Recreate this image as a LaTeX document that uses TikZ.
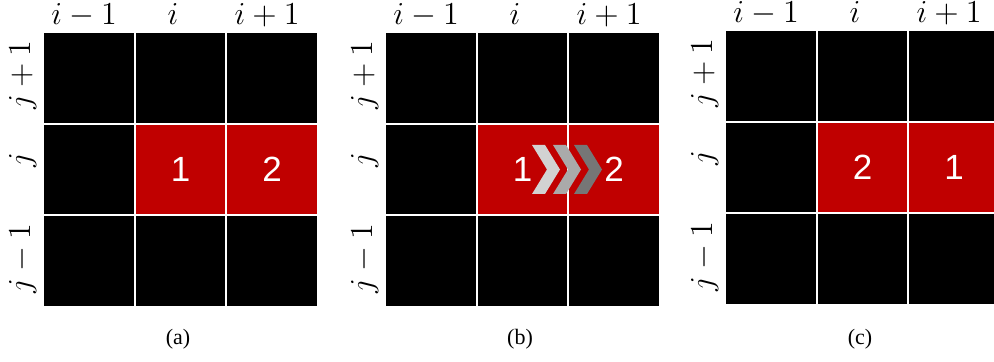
\documentclass[tikz,border=0pt]{standalone}
\usepackage{fix-cm}
\usepackage[no-math]{fontspec}
\usetikzlibrary{positioning}
\newfontfamily\capfont{Liberation Serif}
\newfontfamily\numfont{Liberation Sans}
\definecolor{CellRed}{RGB}{192,0,0}
\definecolor{ChevLight}{RGB}{210,210,210}
\definecolor{ChevMid}{RGB}{170,170,170}
\definecolor{ChevDark}{RGB}{118,118,118}

\begin{document}
\begin{tikzpicture}[x=0.5pt,y=-0.5pt,
  cell/.style={minimum width=44.75pt,minimum height=44.75pt,
               inner sep=0pt,anchor=north west},
  num/.style={text=white,font=\numfont\fontsize{17.5}{20}\selectfont},
  toplab/.style={anchor=base,inner sep=0pt,font=\fontsize{16}{19}\selectfont},
  sidelab/.style={anchor=base,rotate=90,inner sep=0pt,font=\fontsize{16}{19}\selectfont},
  caplab/.style={font=\capfont\fontsize{11}{13}\selectfont},
]
\useasboundingbox (0,0) rectangle (994,362);

% three 3x3 grids
\foreach \p/\px/\py in {a/44/33,b/386/33,c/726/31} {
  \foreach \c in {0,1,2} {
    \foreach \r in {0,1,2} {
      \pgfmathparse{(\r==1 && \c>0) ? "CellRed" : "black"}
      \edef\cellcol{\pgfmathresult}
      \node[cell,fill=\cellcol] (\p-\c-\r) at (\px+91.5*\c,\py+91.5*\r) {};
    }
  }
  \node[toplab] (\p-top0) at (\px+40,\py-8) {$i-1$};
  \node[toplab] (\p-top1) at (\px+129,\py-8) {$i$};
  \node[toplab] (\p-top2) at (\px+223,\py-8) {$i+1$};
  \node[sidelab] (\p-side0) at (\px-14,\py+42) {$j+1$};
  \node[sidelab] (\p-side1) at (\px-14,\py+127) {$j$};
  \node[sidelab] (\p-side2) at (\px-14,\py+226) {$j-1$};
  \node[caplab] (\p-cap) at (\px+134,339) {(\p)};
}

% cell numbers
\node[num] (a-one) at (a-1-1) {1};
\node[num] (a-two) at (a-2-1) {2};
\node[num] (b-one) at (b-1-1) {1};
\node[num] (b-two) at (b-2-1) {2};
\node[num] (c-two) at (c-1-1) {2};
\node[num] (c-one) at (c-2-1) {1};

% chevrons in (b)
\foreach \k/\col in {0/ChevLight,1/ChevMid,2/ChevDark}
  \fill[\col] (532+21*\k,145) -- ++(13,0) -- ++(15,24.5) -- ++(-15,24.5)
    -- ++(-13,0) -- ++(15,-24.5) -- cycle;
\end{tikzpicture}
\end{document}
